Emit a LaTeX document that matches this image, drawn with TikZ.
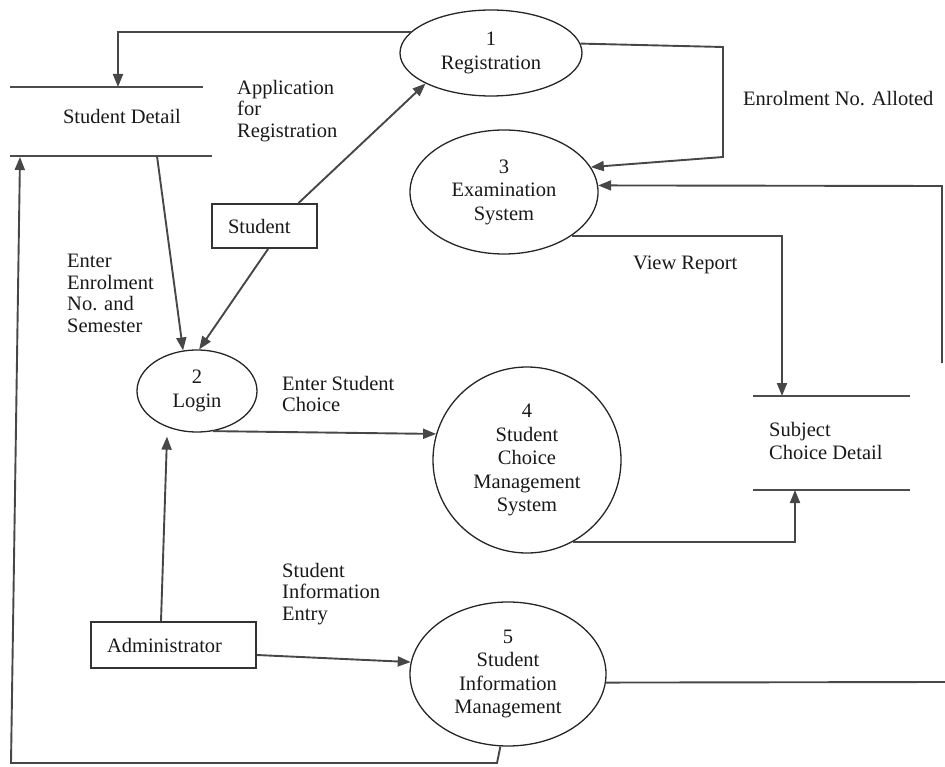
\documentclass[tikz,border=0pt]{standalone}
\usepackage{fontspec}
\setmainfont{Liberation Serif}
\usetikzlibrary{shapes.geometric,arrows.meta,calc}

\begin{document}
\begin{tikzpicture}[x=1pt,y=-1pt,
  txt/.style={font=\fontsize{20.5}{23.5}\selectfont, text=black!90},
  proc/.style={ellipse, draw=black!85, line width=1.3pt, inner sep=0pt,
               align=center, txt},
  ext/.style={rectangle, draw=black!80, line width=1.8pt, inner sep=0pt,
              align=left, txt},
  lbl/.style={anchor=north west, align=left, inner sep=0pt,
              font=\fontsize{20.5}{21.5}\selectfont, text=black!90},
  wire/.style={draw=black!72, line width=1.9pt},
  flow/.style={wire, -{Triangle[length=13pt,width=10pt]}},
  storeline/.style={draw=black!70, line width=2pt}]

\useasboundingbox (0,0) rectangle (945,767);

% processes
\node[proc, minimum width=182, minimum height=86] (reg)   at (491,53)  {1\\Registration};
\node[proc, minimum width=188, minimum height=124] (exam) at (504,192) {3\\Examination\\System};
\node[proc, minimum width=120, minimum height=82] (login) at (197,391) {2\\Login};
\node[proc, minimum width=188, minimum height=186] (scm)  at (527,460) {4\\Student\\Choice\\Management\\System};
\node[proc, minimum width=196, minimum height=144] (sim)  at (508,674) {5\\Student\\Information\\Management};

% external entities
\node[ext, minimum height=44, text width=105] (student) at (264.5,226) {\hspace*{16pt}Student};
\node[ext, minimum height=46, text width=165] (admin)   at (173.5,645) {\hspace*{16pt}Administrator};

% data stores
\node[txt, inner sep=0pt] (sd) at (122,116) {Student Detail};
\coordinate (sdTL) at (10,87);
\coordinate (sdTR) at (203,87);
\coordinate (sdBL) at (10,156);
\coordinate (sdBR) at (212,156);
\draw[storeline] (sdTL) -- (sdTR);
\draw[storeline] (sdBL) -- (sdBR);

\node[txt, inner sep=0pt, align=left, anchor=north west] (scd) at (769,422) {Subject\\Choice Detail};
\coordinate (scdTL) at (753,396);
\coordinate (scdTR) at (910,396);
\coordinate (scdBL) at (753,490);
\coordinate (scdBR) at (910,490);
\draw[storeline] (scdTL) -- (scdTR);
\draw[storeline] (scdBL) -- (scdBR);

% routing points
\coordinate (sdIn)   at (118,87);
\coordinate (sdUp)   at (20,157);
\coordinate (r1)     at (723,47);
\coordinate (r2)     at (723,157);
\coordinate (eIn)    at (942,186);
\coordinate (eTop)   at (942,363);
\coordinate (simOut) at (945,682);
\coordinate (b1)     at (497,763);
\coordinate (b2)     at (11,763);
\coordinate (scdIn)  at (782,396);
\coordinate (scdUp)  at (795,490);

% flows
\draw[flow] (reg.165) -| (sdIn);
\draw[flow] (student.34) -- (reg.205);
\draw[flow] (student.-81) -- (login.87);
\draw[flow] (157,156) -- (login.109);
\draw[flow] (reg.6) -- (r1) -- (r2) -- (exam.16);
\draw[flow] (eTop) -- (eIn) -- (exam.4);
\draw[flow] (exam.-33) -| (scdIn);
\draw[flow] (scm.-61) -| (scdUp);
\draw[flow] (login.-68) -- (scm.164);
\draw[flow] ($(admin.north)+(-12.5,0)$) -- ($(login.south)+(-30,4)$);
\draw[flow] ($(admin.east)+(0,10)$) -- (sim.173);
\draw[wire] (sim.-5) -- (simOut);
\draw[flow] (sim.-96) -- (b1) -- (b2) -- (sdUp);

% flow labels
\node[lbl] (lApp)  at (237,80)  {Application\\for\\Registration};
\node[lbl] (lEnr)  at (743,91)  {Enrolment No. Alloted};
\node[lbl] (lEnt)  at (67,254)  {Enter\\Enrolment\\No. and\\Semester};
\node[lbl] (lView) at (633,256) {View Report};
\node[lbl] (lCh)   at (282,376) {Enter Student\\Choice};
\node[lbl] (lInfo) at (282,563) {Student\\Information\\Entry};

\end{tikzpicture}
\end{document}
